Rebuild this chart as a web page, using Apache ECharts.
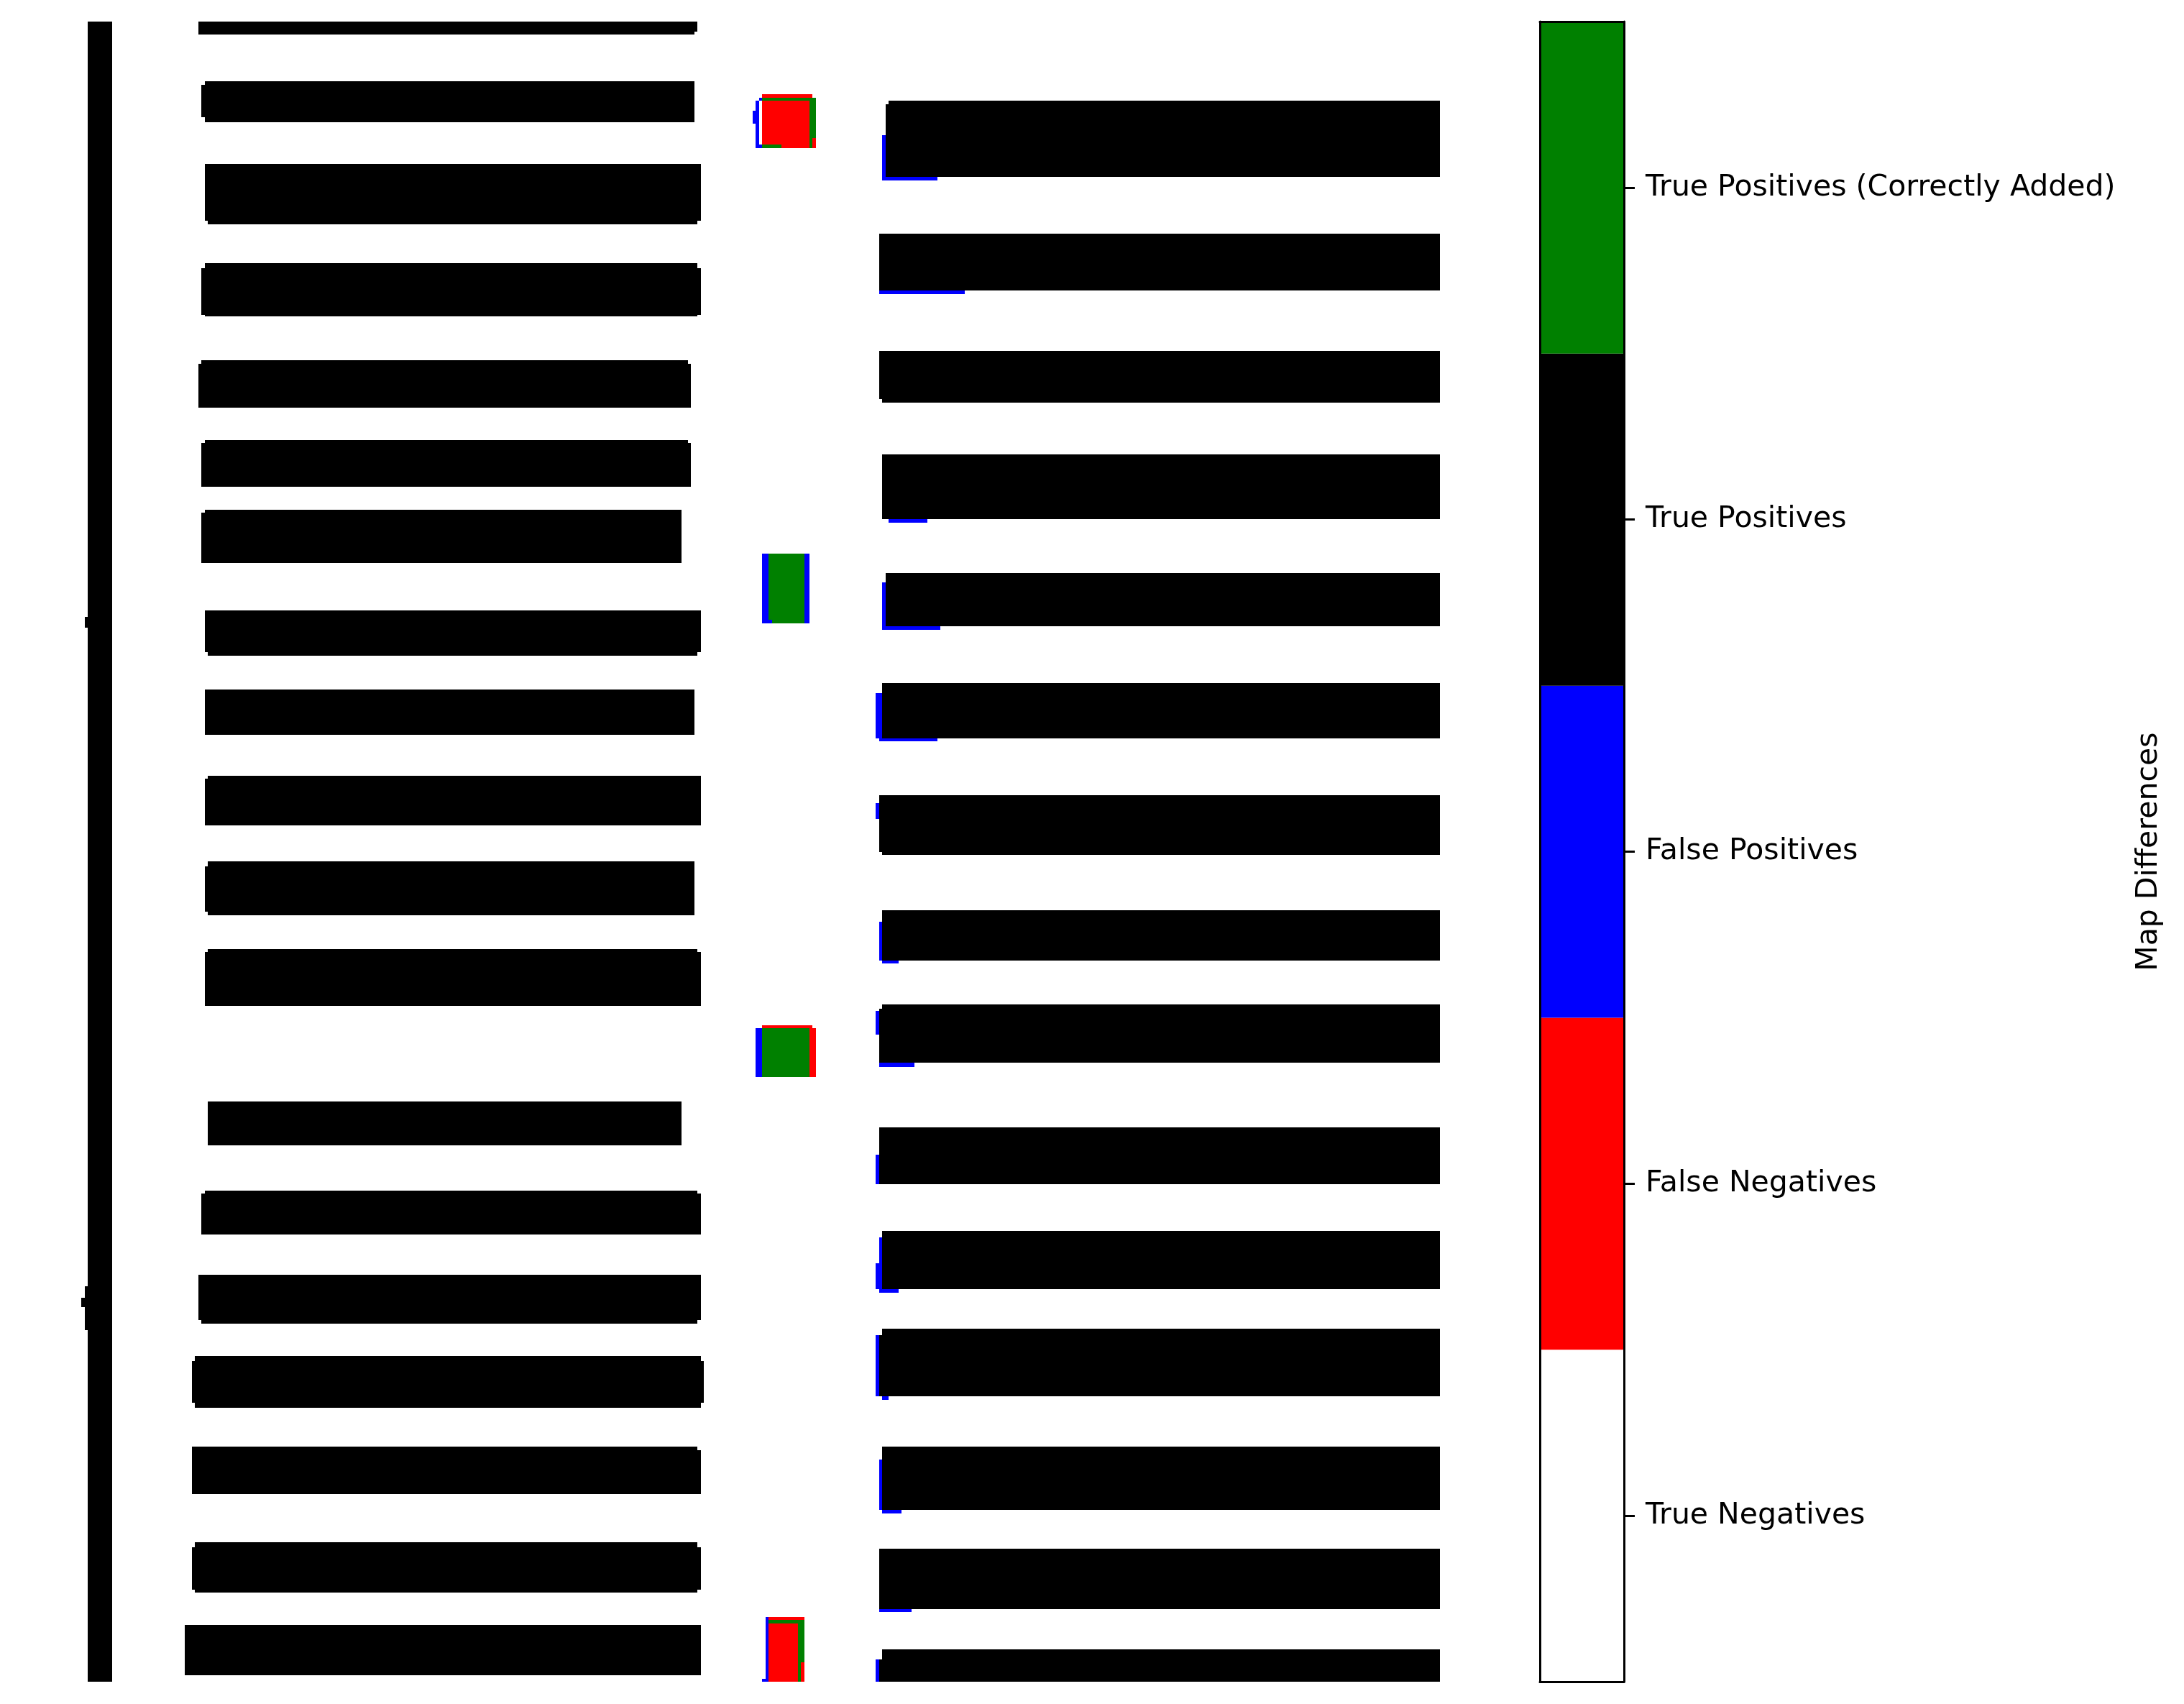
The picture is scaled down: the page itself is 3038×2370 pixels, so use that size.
<!DOCTYPE html>
<html>
<head>
<meta charset="utf-8">
<script src="https://cdn.jsdelivr.net/npm/echarts@6/dist/echarts.min.js"></script>
<style>
  html, body { margin: 0; padding: 0; background: #ffffff; }
  #chart { width: 3038px; height: 2370px; }
</style>
</head>
<body>
<div id="chart"></div>
<script>
// Raster size of the difference map (columns x rows)
const mapCols = 435;
const mapRows = 512;

// Class labels (colorbar, bottom to top) and their colours
const classLabels = ['True Negatives', 'False Negatives', 'False Positives', 'True Positives', 'True Positives (Correctly Added)'];
const classColors = ['#ffffff', '#ff0000', '#0000ff', '#000000', '#008000'];
const colorbarTitle = 'Map Differences';

// Regions of each class, as [col0, col1, row0, row1] in map cells
const truePositiveRects = [
  [18,25.5,0,512],[17,18,183.5,187],[17,18,390,403.5],[16,17,393.5,396.5],
  [52,205,0,4],[205,206,0,3],
  [54,205,18.5,31],[53,54,19.5,29.5],
  [54,207,44,61.5],[55,206,61.5,62.5],
  [54,206,74.5,76],[53,207,76,90.5],[54,206,90.5,91],
  [53,203,104.5,105.5],[52,204,105.5,119],
  [54,203,129,130],[53,204,130,143.5],
  [54,201,150.5,151.5],[53,201,151.5,167],
  [54,207,181.5,194.5],[55,206,194.5,195.5],
  [54,205,206,220],
  [55,207,232.5,233.5],[54,207,233.5,248],
  [55,205,259,260.5],[54,205,260.5,274.5],[55,205,274.5,275.5],
  [55,206,286,287],[54,207,287,303.5],
  [55,201,333,346.5],
  [54,206,360.5,361.5],[53,207,361.5,374],
  [52,207,386.5,400.5],[53,206,400.5,401.5],
  [51,207,411.5,413],[50,208,413,426],[51,207,426,427.5],
  [50,206,439.5,440.5],[50,207,440.5,454],
  [51,206,469,470.5],[50,207,470.5,483.5],[51,206,483.5,484.5],
  [48,207,494.5,510],
  [265,435,24.5,25.5],[264,435,25.5,48],
  [262,435,65.5,83],
  [262,435,101.5,116.5],[263,435,116.5,117.5],
  [263,435,133.5,153.5],
  [264,435,170,186.5],
  [263,435,204,221],
  [262,435,238.5,256],[263,435,256,257],
  [263,435,274,289.5],
  [263,435,303,304.5],[262,435,304.5,321],
  [262,435,341,358.5],
  [263,435,373,391],
  [263,435,403,405],[262,435,405,424],
  [263,435,439.5,459],
  [262,435,471,489.5],
  [263,435,502,505],[262,435,505,512]
];
const correctlyAddedRects = [
  [226,242.5,23.5,24.5],[240.5,242.5,24.5,39],[226,232,38,39],
  [228,239,164,185.5],
  [226,240.5,310.5,325.5],
  [228,239,493,494],[237,239,494,512]
];
const falseNegativeRects = [
  [226,241.5,22.5,23.5],[226,240.5,24.5,38],[232,240.5,38,39],[241.5,242.5,36,39],
  [226,241.5,309.5,310.5],[240.5,242.5,310.5,325.5],
  [228,239,492,493],[228,237,494,512],[238,239,506,512]
];
const falsePositiveRects = [
  [224,225,24.5,39],[225,226,23.5,24.5],[225,226,38,39],[223,224,27.5,31.5],
  [226,228,164,185.5],[239,240.5,164,185.5],[228,229,184.5,185.5],
  [224,226,310.5,325.5],
  [227,228,492,512],[226,227,511,512],
  [263,264,35,49],[263,280,48,49],
  [262,288.5,83,84],
  [265,277,153.5,154.5],
  [263,264,173,187.5],[263,281,186.5,187.5],
  [261,263,207,221],[262,280,221,222],
  [261,262,241,246],
  [262,263,277.5,289.5],[263,268,289.5,290.5],
  [261,262,305,312.5],[262,273,321,322.5],
  [261,262,349.5,358.5],
  [262,263,375,392],[261,262,383,391],[262,268,391,392],
  [261,262,405,424],[263,265,424,425],
  [262,263,443.5,459],[263,269,459,460],
  [262,272,489.5,490.5],
  [261,262,505,512]
];
const colorbarValues = [1, 1, 1, 1, 1];

const FONT = 'DejaVu Sans';
const chart = echarts.init(document.getElementById('chart'), null, { renderer: 'canvas' });

function rectSeries(name, rects, color) {
  return {
    type: 'custom',
    name: name,
    xAxisIndex: 0,
    yAxisIndex: 0,
    data: rects,
    encode: { x: [0, 1], y: [2, 3] },
    silent: true,
    renderItem: function (params, api) {
      const p0 = api.coord([api.value(0), api.value(2)]);
      const p1 = api.coord([api.value(1), api.value(3)]);
      const xa = Math.round(Math.min(p0[0], p1[0]));
      const xb = Math.round(Math.max(p0[0], p1[0]));
      const ya = Math.round(Math.min(p0[1], p1[1]));
      const yb = Math.round(Math.max(p0[1], p1[1]));
      return {
        type: 'rect',
        shape: { x: xa, y: ya, width: Math.max(1, xb - xa), height: Math.max(1, yb - ya) },
        style: { fill: color, stroke: null }
      };
    }
  };
}

const cellPx = 4.51;
const mapLeft = 41, mapTop = 30;
const cbLeft = 2142, cbWidth = 117;

const option = {
  backgroundColor: '#ffffff',
  animation: false,
  grid: [
    { left: mapLeft, top: mapTop, width: mapCols * cellPx, height: mapRows * cellPx, containLabel: false },
    { left: cbLeft, top: mapTop, width: cbWidth, height: mapRows * cellPx, containLabel: false }
  ],
  xAxis: [
    { type: 'value', gridIndex: 0, min: 0, max: mapCols, show: false },
    { type: 'value', gridIndex: 1, min: 0, max: 1, position: 'bottom', z: 10,
      axisLine: { show: true, onZero: false, lineStyle: { color: '#000', width: 3 } },
      axisTick: { show: false }, axisLabel: { show: false }, splitLine: { show: false } },
    { type: 'value', gridIndex: 1, min: 0, max: 1, position: 'top', z: 10,
      axisLine: { show: true, onZero: false, lineStyle: { color: '#000', width: 3 } },
      axisTick: { show: false }, axisLabel: { show: false }, splitLine: { show: false } }
  ],
  yAxis: [
    { type: 'value', gridIndex: 0, min: 0, max: mapRows, inverse: true, show: false },
    { type: 'category', gridIndex: 1, data: classLabels, position: 'left', z: 10,
      axisLine: { show: true, onZero: false, lineStyle: { color: '#000', width: 3 } },
      axisTick: { show: false }, axisLabel: { show: false }, splitLine: { show: false } },
    { type: 'category', gridIndex: 1, data: classLabels, position: 'right', z: 10,
      axisLine: { show: true, onZero: false, lineStyle: { color: '#000', width: 3 } },
      axisTick: { show: true, alignWithLabel: true, length: 15, lineStyle: { color: '#000', width: 3 } },
      axisLabel: { show: true, margin: 30, color: '#000', fontFamily: FONT, fontSize: 41, padding: [6, 0, 0, 0] },
      name: colorbarTitle, nameLocation: 'middle', nameRotate: 90, nameGap: 710,
      nameTextStyle: { color: '#000', fontFamily: FONT, fontSize: 41 } }
  ],
  series: [
    rectSeries('True Positives', truePositiveRects, classColors[3]),
    rectSeries('True Positives (Correctly Added)', correctlyAddedRects, classColors[4]),
    rectSeries('False Negatives', falseNegativeRects, classColors[1]),
    rectSeries('False Positives', falsePositiveRects, classColors[2]),
    {
      type: 'bar',
      name: 'colorbar',
      xAxisIndex: 1,
      yAxisIndex: 2,
      barWidth: '100%',
      silent: true,
      data: colorbarValues.map(function (v, i) {
        return { value: v, itemStyle: { color: classColors[i] } };
      })
    }
  ]
};
chart.setOption(option);
</script>
</body>
</html>
